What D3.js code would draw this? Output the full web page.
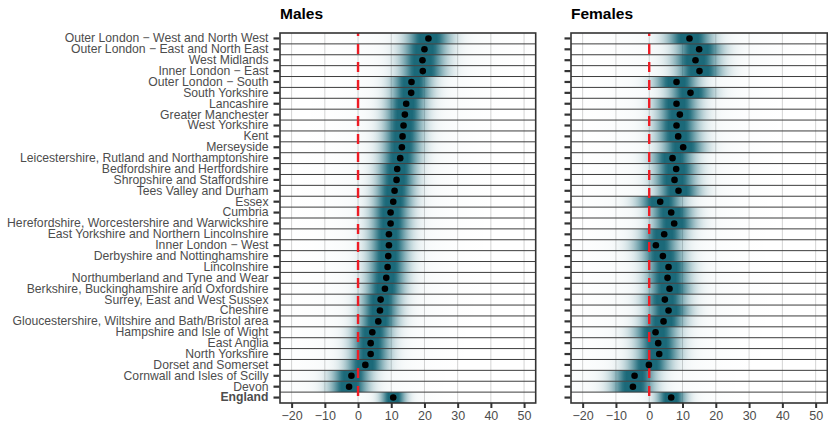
<!DOCTYPE html>
<html>
<head>
<meta charset="utf-8">
<script src="https://cdn.jsdelivr.net/npm/d3@7"></script>
<style>
  body { margin: 0; background: #fff; }
  text { font-family: "Liberation Sans", Arial, sans-serif; }
</style>
</head>
<body>
<svg id="chart"></svg>
<script>
const regions = [
  'Outer London \u2212 West and North West',
  'Outer London \u2212 East and North East',
  'West Midlands',
  'Inner London \u2212 East',
  'Outer London \u2212 South',
  'South Yorkshire',
  'Lancashire',
  'Greater Manchester',
  'West Yorkshire',
  'Kent',
  'Merseyside',
  'Leicestershire, Rutland and Northamptonshire',
  'Bedfordshire and Hertfordshire',
  'Shropshire and Staffordshire',
  'Tees Valley and Durham',
  'Essex',
  'Cumbria',
  'Herefordshire, Worcestershire and Warwickshire',
  'East Yorkshire and Northern Lincolnshire',
  'Inner London \u2212 West',
  'Derbyshire and Nottinghamshire',
  'Lincolnshire',
  'Northumberland and Tyne and Wear',
  'Berkshire, Buckinghamshire and Oxfordshire',
  'Surrey, East and West Sussex',
  'Cheshire',
  'Gloucestershire, Wiltshire and Bath/Bristol area',
  'Hampshire and Isle of Wight',
  'East Anglia',
  'North Yorkshire',
  'Dorset and Somerset',
  'Cornwall and Isles of Scilly',
  'Devon',
  'England'
];

// point estimates
const males = [21.2, 20.0, 19.4, 19.5, 16.1, 16.0, 14.5, 14.1, 13.7, 13.4,
  13.2, 12.7, 11.8, 11.6, 11.0, 10.6, 9.8, 9.8, 9.3, 9.3,
  9.1, 8.9, 8.5, 8.1, 6.8, 6.6, 6.1, 4.3, 3.8, 3.8,
  2.2, -2.0, -2.7, 10.6];
const females = [12.1, 15.0, 13.9, 15.1, 8.2, 12.4, 8.2, 9.2, 8.2, 8.7,
  10.2, 7.0, 8.1, 7.6, 8.8, 3.3, 6.6, 7.5, 4.5, 2.0,
  4.1, 5.8, 5.5, 6.1, 4.7, 5.8, 4.3, 1.9, 2.7, 3.0,
  -0.1, -4.4, -4.9, 6.6];

// spread of the uncertainty band (same units as x)
const malesSpread = [4.2, 4.2, 4.2, 4.2, 3.8, 3.8, 3.7, 3.7, 3.7, 3.7,
  3.7, 3.7, 3.7, 3.7, 3.7, 3.7, 3.7, 3.7, 3.7, 3.7,
  3.7, 3.7, 3.7, 3.7, 3.7, 3.7, 3.7, 3.7, 3.7, 3.7,
  3.7, 3.7, 3.7, 2.4];
const femalesSpread = [4.3, 4.3, 4.3, 4.3, 4.1, 4.1, 4.0, 4.0, 4.0, 4.0,
  4.0, 4.0, 4.0, 4.0, 4.0, 4.2, 4.0, 4.0, 4.0, 4.2,
  4.0, 4.0, 4.0, 4.0, 4.0, 4.0, 4.0, 4.2, 4.0, 4.0,
  4.0, 4.0, 4.0, 2.8];

const xTicks = [-20, -10, 0, 10, 20, 30, 40, 50];

const width = 828;
const height = 423;
const margin = { top: 33, bottom: 20 };
const bandColor = '#1b6979';

const svg = d3.select('#chart')
  .attr('width', width)
  .attr('height', height);

const defs = svg.append('defs');

const y = d3.scaleBand()
  .domain(regions)
  .range([margin.top, height - margin.bottom])
  .padding(0);

const panels = [
  { key: 'm', title: 'Males', values: males, spread: malesSpread, left: 280, right: 535.7, labels: true },
  { key: 'f', title: 'Females', values: females, spread: femalesSpread, left: 571, right: 827.3, labels: false },
];

const fmt = v => (v < 0 ? '\u2212' + Math.abs(v) : String(v));

panels.forEach(p => {
  const x = d3.scaleLinear()
    .domain([-23.5, 53.5])
    .range([p.left, p.right]);

  const g = svg.append('g');
  const top = y.range()[0];
  const bottom = y.range()[1];

  // vertical grid
  g.selectAll('.vgrid')
    .data(xTicks)
    .enter().append('line')
      .attr('x1', d => x(d))
      .attr('x2', d => x(d))
      .attr('y1', top)
      .attr('y2', bottom)
      .attr('stroke', '#d4d4d4')
      .attr('stroke-width', 1);

  // gradient bands
  regions.forEach((r, i) => {
    const v = p.values[i];
    const s = p.spread[i];
    const id = `grad-${p.key}-${i}`;
    const grad = defs.append('linearGradient')
      .attr('id', id)
      .attr('gradientUnits', 'userSpaceOnUse')
      .attr('x1', x(v - 8 * s))
      .attr('x2', x(v + 8 * s))
      .attr('y1', 0)
      .attr('y2', 0);
    d3.range(0, 81).forEach(k => {
      const t = k / 80;
      const z = (t - 0.5) * 16;
      const a = 1.2 * Math.exp(-0.5 * z * z) + 0.05 * Math.exp(-0.5 * (z / 3) * (z / 3));
      grad.append('stop')
        .attr('offset', t)
        .attr('stop-color', bandColor)
        .attr('stop-opacity', Math.min(1, a));
    });
    g.append('rect')
      .attr('x', p.left)
      .attr('y', y(r))
      .attr('width', p.right - p.left)
      .attr('height', y.bandwidth())
      .attr('fill', `url(#${id})`);
  });

  // row separators
  g.selectAll('.hline')
    .data(regions.slice(1))
    .enter().append('line')
      .attr('x1', p.left)
      .attr('x2', p.right)
      .attr('y1', d => y(d))
      .attr('y2', d => y(d))
      .attr('stroke', '#3d3d3d')
      .attr('stroke-width', 1);

  // zero reference
  g.append('line')
    .attr('x1', x(0))
    .attr('x2', x(0))
    .attr('y1', top)
    .attr('y2', bottom)
    .attr('stroke', '#ee1c25')
    .attr('stroke-width', 2.4)
    .attr('stroke-dasharray', '10,8')
    .attr('stroke-dashoffset', 7);

  // points
  g.selectAll('.pt')
    .data(regions)
    .enter().append('circle')
      .attr('cx', (d, i) => x(p.values[i]))
      .attr('cy', d => y(d) + y.bandwidth() / 2)
      .attr('r', 3.3)
      .attr('fill', '#000');

  // panel border
  g.append('rect')
    .attr('x', p.left)
    .attr('y', top)
    .attr('width', p.right - p.left)
    .attr('height', bottom - top)
    .attr('fill', 'none')
    .attr('stroke', '#333')
    .attr('stroke-width', 1.6);

  // x axis
  const xAxis = d3.axisBottom(x)
    .tickValues(xTicks)
    .tickFormat(fmt)
    .tickSizeInner(5)
    .tickSizeOuter(0)
    .tickPadding(3);
  const ax = svg.append('g')
    .attr('transform', `translate(0, ${bottom})`)
    .call(xAxis);
  ax.select('.domain').remove();
  ax.selectAll('line').attr('stroke', '#333').attr('stroke-width', 2);
  ax.selectAll('text')
    .attr('fill', '#4d4d4d')
    .attr('font-size', 12.5)
    .attr('font-family', '"Liberation Sans", Arial, sans-serif');

  // y axis
  const yAxis = d3.axisLeft(y)
    .tickSizeInner(6)
    .tickSizeOuter(0)
    .tickPadding(5)
    .tickFormat(d => (p.labels ? d : ''));
  const ay = svg.append('g')
    .attr('transform', `translate(${p.left - 0.5}, 0)`)
    .call(yAxis);
  ay.select('.domain').remove();
  ay.selectAll('line').attr('stroke', '#333').attr('stroke-width', 2.2);
  ay.selectAll('text')
    .attr('fill', '#4d4d4d')
    .attr('font-size', 12.2)
    .attr('font-family', '"Liberation Sans", Arial, sans-serif')
    .attr('font-weight', d => (d === 'England' ? 'bold' : 'normal'));

  // title
  svg.append('text')
    .attr('x', p.left)
    .attr('y', 18.5)
    .attr('font-size', 15.5)
    .attr('font-weight', 'bold')
    .attr('fill', '#000')
    .text(p.title);
});
</script>
</body>
</html>
